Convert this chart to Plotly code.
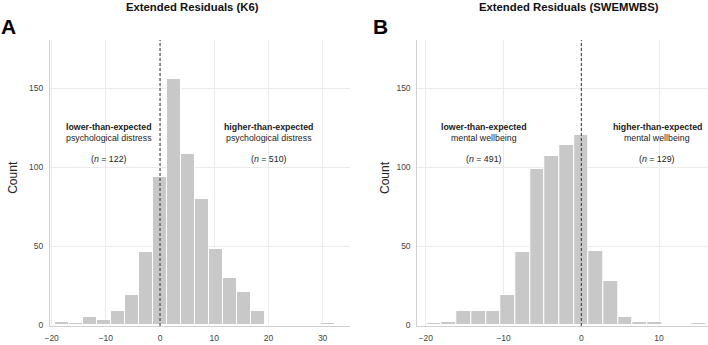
import numpy as np
import plotly.graph_objects as go

# ---------------- data ----------------
k6_bin_width = 2.58
k6_first_bin = -7          # index of first bin (bins centred on multiples of bin width)
k6_counts = [2, 1, 5, 3, 9, 19, 46, 94, 156, 108, 80, 48, 30, 21, 9, 0, 0, 0, 0, 1]

sw_bin_width = 1.89
sw_first_bin = -10
sw_counts = [1, 2, 9, 9, 9, 19, 46, 99, 107, 114, 120, 47, 28, 5, 2, 2, 0, 0, 1]

k6_ticks = [-20, -10, 0, 10, 20, 30]
sw_ticks = [-20, -10, 0, 10]
y_ticks = [0, 50, 100, 150]

titles = ["Extended Residuals (K6)", "Extended Residuals (SWEMWBS)"]
panel_letters = ["A", "B"]
k6_labels = [("lower-than-expected", "psychological distress", "(<i>n</i> = 122)"),
             ("higher-than-expected", "psychological distress", "(<i>n</i> = 510)")]
sw_labels = [("lower-than-expected", "mental wellbeing", "(<i>n</i> = 491)"),
             ("higher-than-expected", "mental wellbeing", "(<i>n</i> = 129)")]

# ---------------- figure ----------------
W, H = 708, 345
FONT = "Liberation Sans, Arial, Helvetica, sans-serif"
BAR = "#c8c8c8"
GRID = "#ebebeb"

k6_centers = (np.arange(len(k6_counts)) + k6_first_bin) * k6_bin_width
sw_centers = (np.arange(len(sw_counts)) + sw_first_bin) * sw_bin_width

fig = go.Figure()
fig.add_trace(go.Bar(x=k6_centers, y=k6_counts, width=k6_bin_width,
                     marker=dict(color=BAR, line=dict(color="white", width=1)),
                     xaxis="x", yaxis="y", showlegend=False, hoverinfo="x+y"))
fig.add_trace(go.Bar(x=sw_centers, y=sw_counts, width=sw_bin_width,
                     marker=dict(color=BAR, line=dict(color="white", width=1)),
                     xaxis="x2", yaxis="y2", showlegend=False, hoverinfo="x+y"))

ydom = [19 / H, 305 / H]
axis_common = dict(showgrid=True, gridcolor=GRID, gridwidth=1, zeroline=False,
                   showline=True, linecolor="#cfcfcf", linewidth=1,
                   ticks="outside", ticklen=4, tickcolor="rgba(0,0,0,0)",
                   automargin=False,
                   tickfont=dict(family=FONT, size=8.5, color="#444444"))

fig.update_layout(
    width=W, height=H,
    margin=dict(l=0, r=0, t=0, b=0, autoexpand=False),
    paper_bgcolor="white", plot_bgcolor="white",
    bargap=0,
    font=dict(family=FONT),
    xaxis=dict(domain=[50 / W, 350 / W], range=[-20.3, 35.05], tickvals=k6_ticks,
               anchor="y", **axis_common),
    yaxis=dict(domain=ydom, range=[-0.6, 180.4], tickvals=y_ticks, anchor="x",
               **axis_common),
    xaxis2=dict(domain=[417.3 / W, 1.0], range=[-21.1, 16.3], tickvals=sw_ticks,
                anchor="y2", **axis_common),
    yaxis2=dict(domain=ydom, range=[-0.6, 180.4], tickvals=y_ticks, anchor="x2",
                **axis_common),
)

# dashed reference lines at zero
for xr, yr in [("x", "y domain"), ("x2", "y2 domain")]:
    fig.add_shape(type="line", xref=xr, yref=yr, x0=0, x1=0, y0=0, y1=1,
                  line=dict(color="#333333", width=1, dash="3px,2px"))

ann = []
# titles and panel letters
for cx, t in zip([192, 569], titles):
    ann.append(dict(text=f"<b>{t}</b>", x=cx / W, y=1 - 7 / H, xref="paper", yref="paper",
                    xanchor="center", yanchor="middle", showarrow=False,
                    font=dict(family=FONT, size=11.3, color="#111111")))
for cx, L in zip([8.5, 380], panel_letters):
    ann.append(dict(text=f"<b>{L}</b>", x=cx / W, y=1 - 26 / H, xref="paper", yref="paper",
                    xanchor="center", yanchor="middle", showarrow=False,
                    font=dict(family=FONT, size=21, color="#000000")))
# y axis titles
for cx in [12.8, 385]:
    ann.append(dict(text="Count", x=cx / W, y=1 - 177 / H, xref="paper", yref="paper",
                    xanchor="center", yanchor="middle", textangle=-90, showarrow=False,
                    font=dict(family=FONT, size=12, color="#222222")))

# group labels inside panels
def add_group(xref, yref, xpos, lines):
    bold, desc, n = lines
    for txt, yv, size in [(f"<b>{bold}</b>", 125.5, 8.8), (desc, 118.5, 8.8), (n, 104.9, 8.8)]:
        ann.append(dict(text=txt, x=xpos, y=yv, xref=xref, yref=yref,
                        xanchor="center", yanchor="middle", showarrow=False,
                        font=dict(family=FONT, size=size, color="#222222")))

add_group("x", "y", -9.4, k6_labels[0])
add_group("x", "y", 20.1, k6_labels[1])
add_group("x2", "y2", -12.5, sw_labels[0])
add_group("x2", "y2", 9.8, sw_labels[1])

fig.update_layout(annotations=ann)
fig.write_html("out.html", config={"displayModeBar": False},
               post_script="document.body.style.margin='0';document.body.style.padding='0';")
